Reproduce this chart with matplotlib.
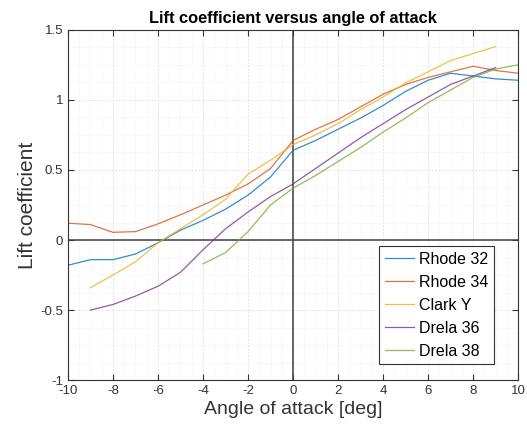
import numpy as np
import matplotlib
matplotlib.use("Agg")
import matplotlib.pyplot as plt
from matplotlib.ticker import MultipleLocator, FormatStrFormatter

plt.rcParams['font.family'] = ['Liberation Sans', 'DejaVu Sans']
plt.rcParams['axes.unicode_minus'] = False

# angle of attack [deg]
aoa = np.arange(-10, 11)
aoa_clark = np.arange(-9, 10)
aoa_d36 = np.arange(-9, 10)
aoa_d38 = np.arange(-4, 11)

rhode32 = [-0.18, -0.14, -0.14, -0.10, -0.02, 0.07, 0.14, 0.22, 0.32, 0.45, 0.64,
           0.71, 0.79, 0.87, 0.96, 1.06, 1.14, 1.19, 1.17, 1.15, 1.14]
rhode34 = [0.12, 0.11, 0.055, 0.06, 0.115, 0.18, 0.25, 0.32, 0.40, 0.51, 0.71,
           0.79, 0.86, 0.95, 1.04, 1.11, 1.16, 1.20, 1.24, 1.21, 1.19]
clarky = [-0.34, -0.25, -0.155, -0.02, 0.08, 0.18, 0.29, 0.47, 0.57, 0.68,
          0.75, 0.83, 0.93, 1.02, 1.12, 1.20, 1.28, 1.33, 1.38]
drela36 = [-0.50, -0.46, -0.40, -0.33, -0.23, -0.07, 0.08, 0.20, 0.31, 0.40,
           0.51, 0.62, 0.73, 0.83, 0.93, 1.02, 1.11, 1.17, 1.23]
drela38 = [-0.17, -0.09, 0.06, 0.25, 0.37, 0.46, 0.56, 0.66, 0.77, 0.87,
           0.98, 1.07, 1.16, 1.22, 1.25]

colors = ['#0072BD', '#D95319', '#EDB120', '#7E2F8E', '#77AC30']

fig = plt.figure(figsize=(5.27, 4.32), dpi=100)
ax = fig.add_axes([0.129, 0.120, 0.854, 0.811])

ax.plot(aoa, rhode32, color=colors[0], lw=0.9, alpha=0.8, label='Rhode 32')
ax.plot(aoa, rhode34, color=colors[1], lw=0.9, alpha=0.8, label='Rhode 34')
ax.plot(aoa_clark, clarky, color=colors[2], lw=0.9, alpha=0.8, label='Clark Y')
ax.plot(aoa_d36, drela36, color=colors[3], lw=0.9, alpha=0.8, label='Drela 36')
ax.plot(aoa_d38, drela38, color=colors[4], lw=0.9, alpha=0.8, label='Drela 38')

ax.axhline(0, color='#404040', lw=1.1, zorder=1)
ax.axvline(0, color='#404040', lw=1.1, zorder=1)

ax.set_xlim(-10, 10)
ax.set_ylim(-1, 1.5)
ax.xaxis.set_major_locator(MultipleLocator(2))
ax.xaxis.set_minor_locator(MultipleLocator(0.5))
ax.yaxis.set_major_locator(MultipleLocator(0.5))
ax.yaxis.set_minor_locator(MultipleLocator(0.125))
ax.yaxis.set_major_formatter(FormatStrFormatter('%g'))
ax.grid(True, which='major', color='#dcdcdc', lw=0.6, ls=(0, (2, 2)))
ax.grid(True, which='minor', color='#e6e6e6', lw=0.5, ls=(0, (1, 2)))
ax.set_axisbelow(True)
ax.tick_params(which='major', direction='in', top=True, right=True, length=4,
               labelsize=9.5, colors='#333333')
ax.tick_params(which='minor', length=0)
for s in ax.spines.values():
    s.set_color('#333333')
    s.set_linewidth(0.8)

ax.set_title('Lift coefficient versus angle of attack', fontsize=11.8, fontweight='bold', pad=5)
ax.set_xlabel('Angle of attack [deg]', fontsize=14, color='#333333', labelpad=3)
ax.set_ylabel('Lift coefficient', fontsize=15, color='#333333', labelpad=2)

leg = ax.legend(loc='lower right', bbox_to_anchor=(0.947, 0.045), fontsize=11.5,
                fancybox=False, framealpha=1, edgecolor='#333333',
                handlelength=1.8, handletextpad=0.35, borderpad=0.35,
                borderaxespad=0, labelspacing=0.5)
leg.get_frame().set_linewidth(0.8)

fig.savefig('out.png', dpi=100)
